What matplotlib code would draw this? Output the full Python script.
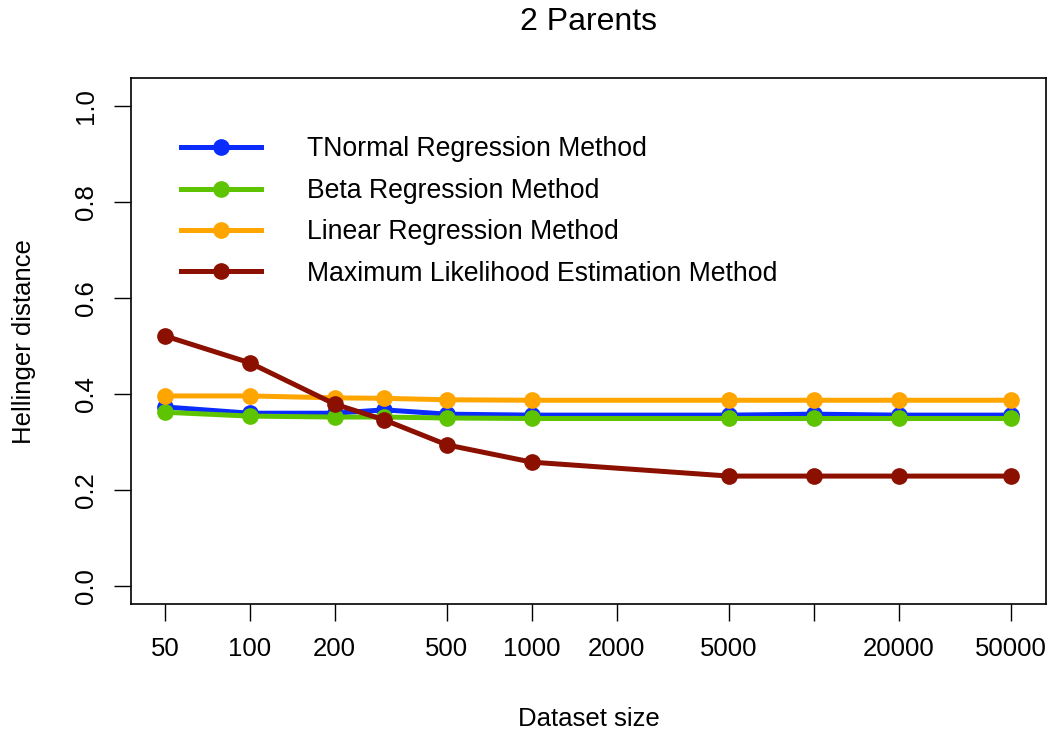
import matplotlib
matplotlib.use("Agg")
import matplotlib.pyplot as plt

plt.rcParams['font.family'] = ['Liberation Sans', 'DejaVu Sans']

sizes = [50, 100, 200, 300, 500, 1000, 5000, 10000, 20000, 50000]
tnormal = [0.373, 0.360, 0.360, 0.367, 0.358, 0.356, 0.356, 0.358, 0.356, 0.356]
beta = [0.362, 0.354, 0.352, 0.352, 0.350, 0.349, 0.349, 0.349, 0.349, 0.349]
linear = [0.396, 0.396, 0.392, 0.391, 0.388, 0.387, 0.387, 0.387, 0.387, 0.387]
mle = [0.521, 0.465, 0.379, 0.346, 0.294, 0.258, 0.229, 0.229, 0.229, 0.229]

labels = ["TNormal Regression Method", "Beta Regression Method",
          "Linear Regression Method", "Maximum Likelihood Estimation Method"]
colors = ["#0a2cff", "#5fc400", "#ffa500", "#8b1000"]

xticks = [50, 100, 200, 500, 1000, 2000, 5000, 10000, 20000, 50000]
xticklabels = ["50", "100", "200", "500", "1000", "2000", "5000", "", "20000", "50000"]
yticks = [0.0, 0.2, 0.4, 0.6, 0.8, 1.0]

fs = 18.5

fig = plt.figure(figsize=(10.53, 7.38), dpi=100)
ax = fig.add_axes([0.1244, 0.1816, 0.869, 0.7124])

for ys, c, lb in zip([tnormal, beta, linear, mle], colors, labels):
    ax.plot(sizes, ys, '-o', color=c, lw=3.6, ms=11, label=lb)

ax.set_xscale('log')
ax.set_xlim(37.9, 66550)
ax.set_ylim(-0.0375, 1.058)
ax.set_xticks(xticks)
ax.set_xticklabels(xticklabels)
ax.minorticks_off()
ax.set_yticks(yticks)
ax.set_yticklabels(["%.1f" % v for v in yticks], rotation=90, va='center')
ax.tick_params(axis='both', direction='out', length=12, width=1, labelsize=fs, pad=12)

for s in ax.spines.values():
    s.set_linewidth(1.2)

# title placed like R's main title
fig.text(0.5588, 0.970, "2 Parents", fontsize=23, ha='center', va='center')
ax.set_xlabel("Dataset size", fontsize=fs, labelpad=33)
ax.set_ylabel("Hellinger distance", fontsize=fs, labelpad=27)

ax.legend(loc='upper left', bbox_to_anchor=(0.028, 0.935), frameon=False, fontsize=19.2,
          handlelength=3.0, handletextpad=1.75, labelspacing=0.58)

plt.savefig("out.png", dpi=100)
